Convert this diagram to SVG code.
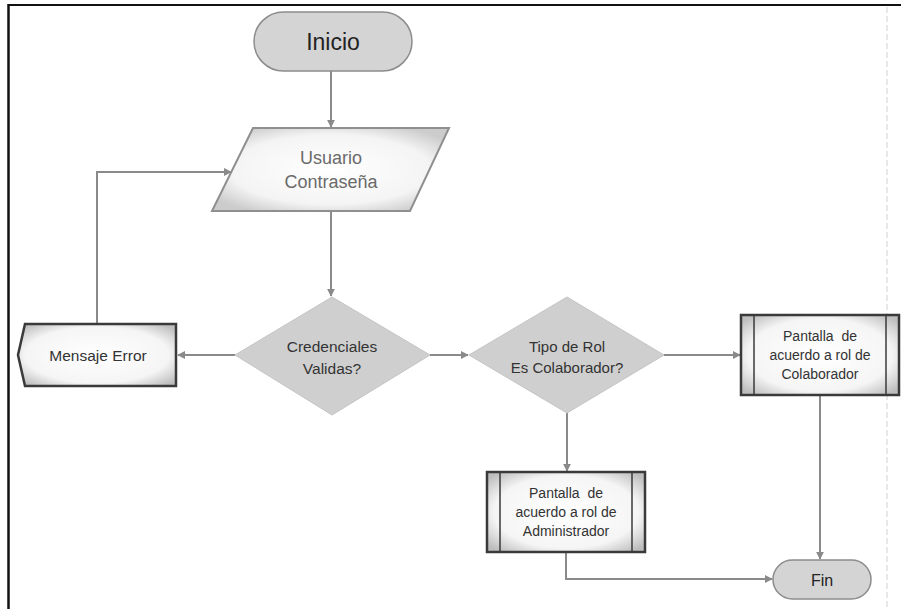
<svg xmlns="http://www.w3.org/2000/svg" width="901" height="609" viewBox="0 0 901 609">
<defs>
<style>
.t{font-family:"Liberation Sans",Arial,sans-serif;text-anchor:middle;dominant-baseline:central;white-space:pre}
.conn{fill:none;stroke:#8a8a8a;stroke-width:2}
.term{fill:#d4d4d4;stroke:#8c8c8c;stroke-width:1.5}
.dia{fill:#cfcfcf;stroke:#c4c4c4;stroke-width:1}
.box{fill:url(#glow);stroke:#3a3a3a;stroke-width:2.5}
.inner{stroke:#3a3a3a;stroke-width:1.5}
</style>
<radialGradient id="glow" cx="50%" cy="50%" r="65%">
<stop offset="0" stop-color="#ffffff"/>
<stop offset="0.7" stop-color="#f5f5f5"/>
<stop offset="1" stop-color="#bdbdbd"/>
</radialGradient>
<radialGradient id="glow2" cx="50%" cy="50%" r="60%">
<stop offset="0" stop-color="#ffffff"/>
<stop offset="0.7" stop-color="#f4f4f4"/>
<stop offset="1" stop-color="#cccccc"/>
</radialGradient>
<marker id="arr" viewBox="0 0 10 10" refX="9" refY="5" markerWidth="8" markerHeight="8" orient="auto" markerUnits="userSpaceOnUse">
<path d="M0,0 L10,5 L0,10 z" fill="#8a8a8a"/>
</marker>
</defs>
<rect width="901" height="609" fill="#ffffff"/>
<g id="frame">
<line x1="8" y1="5" x2="901" y2="5" stroke="#111" stroke-width="2"/>
<line x1="8.5" y1="4" x2="8.5" y2="609" stroke="#111" stroke-width="2.5"/>
<line x1="887" y1="7" x2="887" y2="609" stroke="#d0d0d0" stroke-width="1" stroke-dasharray="6,3"/>
</g>
<g id="connectors">
<path class="conn" d="M331,71 V127" marker-end="url(#arr)"/>
<path class="conn" d="M97,323 V172 H231" marker-end="url(#arr)"/>
<path class="conn" d="M331,211 V296" marker-end="url(#arr)"/>
<path class="conn" d="M235,355 H178" marker-end="url(#arr)"/>
<path class="conn" d="M430,355 H468" marker-end="url(#arr)"/>
<path class="conn" d="M664,355 H740" marker-end="url(#arr)"/>
<path class="conn" d="M567,413 V471" marker-end="url(#arr)"/>
<path class="conn" d="M820,396 V559" marker-end="url(#arr)"/>
<path class="conn" d="M566,552 V579 H772" marker-end="url(#arr)"/>
</g>
<g id="inicio">
<rect class="term" x="254" y="12" width="158" height="59" rx="29.5"/>
<text class="t" x="333" y="42" font-size="23" fill="#222">Inicio</text>
</g>
<g id="usuario">
<polygon points="253,128 449,128 410,211 212,211" fill="url(#glow2)" stroke="#8f8f8f" stroke-width="2"/>
<text class="t" x="331" y="158" font-size="18" fill="#6a6a6a">Usuario</text>
<text class="t" x="331" y="182" font-size="18" fill="#6a6a6a">Contraseña</text>
</g>
<g id="credenciales">
<polygon class="dia" points="332,297 430,355 332,415 235,355"/>
<text class="t" x="332" y="346" font-size="15.5" fill="#333">Credenciales</text>
<text class="t" x="332" y="368" font-size="15.5" fill="#333">Validas?</text>
</g>
<g id="mensaje">
<path class="box" d="M25,324 H176 V386 H25 L18,355 Z"/>
<text class="t" x="98" y="355" font-size="15.5" fill="#333">Mensaje Error</text>
</g>
<g id="tiporol">
<polygon class="dia" points="567,297 664,355 567,413 469,355"/>
<text class="t" x="567" y="346" font-size="15" fill="#333">Tipo de Rol</text>
<text class="t" x="567" y="367" font-size="15" fill="#333">Es Colaborador?</text>
</g>
<g id="colaborador">
<rect class="box" x="741" y="315" width="158" height="80"/>
<line class="inner" x1="754" y1="315" x2="754" y2="395"/>
<line class="inner" x1="886" y1="315" x2="886" y2="395"/>
<text class="t" x="820" y="336" font-size="14" fill="#333">Pantalla  de</text>
<text class="t" x="820" y="355" font-size="14" fill="#333">acuerdo a rol de</text>
<text class="t" x="820" y="374" font-size="14" fill="#333">Colaborador</text>
</g>
<g id="administrador">
<rect class="box" x="487" y="472" width="158" height="80"/>
<line class="inner" x1="500" y1="472" x2="500" y2="552"/>
<line class="inner" x1="632" y1="472" x2="632" y2="552"/>
<text class="t" x="566" y="493" font-size="14" fill="#333">Pantalla  de</text>
<text class="t" x="566" y="512" font-size="14" fill="#333">acuerdo a rol de</text>
<text class="t" x="566" y="531" font-size="14" fill="#333">Administrador</text>
</g>
<g id="fin">
<rect class="term" x="773" y="560" width="98" height="39" rx="19.5"/>
<text class="t" x="822" y="580" font-size="16" fill="#222">Fin</text>
</g>
</svg>
